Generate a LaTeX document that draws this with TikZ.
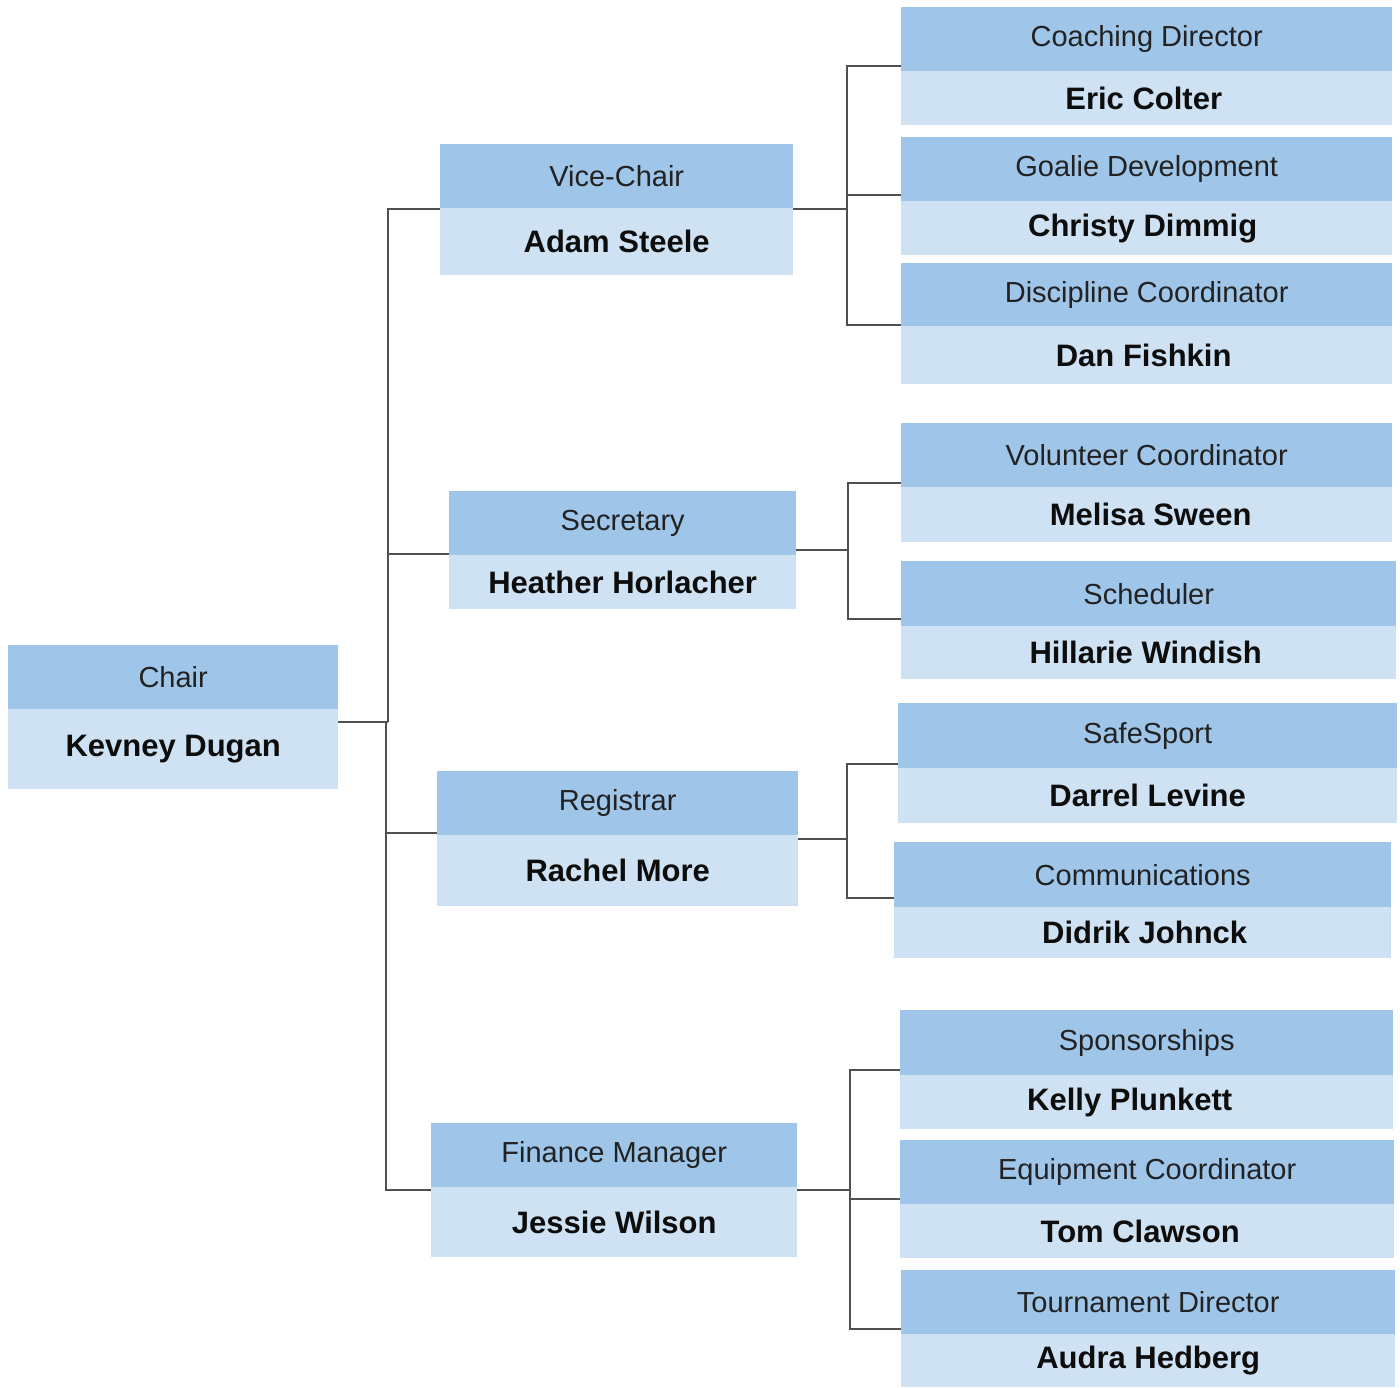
\documentclass[tikz,border=0pt]{standalone}
\usepackage{fontspec}
\setmainfont{Liberation Sans}
\definecolor{roleblue}{HTML}{9FC5E8}
\definecolor{nameblue}{HTML}{CFE2F3}
\definecolor{linec}{HTML}{505050}
\definecolor{roletext}{HTML}{222222}
\definecolor{nametext}{HTML}{0D0D0D}
\tikzset{
  rolebox/.style={fill=roleblue, inner sep=0pt, text=roletext, font=\fontsize{29}{34}\selectfont},
  namebox/.style={fill=nameblue, inner sep=0pt, text=nametext, font=\bfseries\fontsize{31}{36}\selectfont},
  conn/.style={draw=linec, line width=1.5pt}
}
\newcommand{\orgbox}[8]{%
  \node[rolebox, minimum width={#3pt-#2pt}, minimum height={#5pt-#4pt}, anchor=north west] (#1T) at (#2,#4) {#7};
  \node[namebox, minimum width={#3pt-#2pt}, minimum height={#6pt-#5pt}, anchor=north west] (#1B) at (#2,#5) {#8};
}
\begin{document}
\begin{tikzpicture}[x=1pt,y=-1pt]
\fill[white] (0,0) rectangle (1400,1387);
\useasboundingbox (0,0) rectangle (1400,1387);
% level 0
\orgbox{chair}{8}{338}{645}{709}{789}{Chair}{Kevney Dugan}
% level 1
\orgbox{vc}{440}{793}{144}{208}{275}{Vice-Chair}{Adam Steele}
\orgbox{sec}{449}{796}{491}{555}{609}{Secretary}{Heather Horlacher}
\orgbox{reg}{437}{798}{771}{835}{906}{Registrar}{Rachel More}
\orgbox{fin}{431}{797}{1123}{1187}{1257}{Finance Manager}{Jessie Wilson}
% level 2
\orgbox{cd}{901}{1392}{7}{71}{125}{Coaching Director}{Eric Colter\hspace*{6pt}}
\orgbox{gd}{901}{1392}{137}{201}{255}{Goalie Development}{Christy Dimmig\hspace*{8pt}}
\orgbox{dc}{901}{1392}{263}{326}{384}{Discipline Coordinator}{Dan Fishkin\hspace*{6pt}}
\orgbox{vco}{901}{1392}{423}{487}{542}{Volunteer Coordinator}{\hspace*{8pt}Melisa Sween}
\orgbox{sch}{901}{1396}{561}{626}{679}{Scheduler}{Hillarie Windish\hspace*{6pt}}
\orgbox{ss}{898}{1397}{703}{768}{823}{SafeSport}{Darrel Levine}
\orgbox{com}{894}{1391}{842}{907}{958}{Communications}{\hspace*{4pt}Didrik Johnck}
\orgbox{sp}{900}{1393}{1010}{1075}{1129}{Sponsorships}{Kelly Plunkett\hspace*{34pt}}
\orgbox{eq}{900}{1394}{1140}{1204}{1258}{Equipment Coordinator}{Tom Clawson\hspace*{14pt}}
\orgbox{td}{901}{1395}{1270}{1334}{1387}{Tournament Director}{Audra Hedberg}
% trunk
\coordinate (j0) at (388,722);
\draw[conn] (chairB.east |- j0) -- (j0);
\draw[conn] (vcB.west |- 0,209) -| (j0);
\draw[conn] (secB.west |- 0,554) -- (388,554);
\draw[conn] (regB.west |- 0,833) -- (386,833);
\draw[conn] (finB.west |- 0,1190) -| (386,722);
% vice-chair branch
\coordinate (j1) at (847,209);
\draw[conn] (vcB.east |- j1) -- (j1);
\draw[conn] (cdT.west |- 0,66) -| (j1);
\draw[conn] (gdT.west |- 0,195) -- (847,195);
\draw[conn] (dcT.west |- 0,325) -| (j1);
% secretary branch
\coordinate (j2) at (848,550);
\draw[conn] (secT.east |- j2) -- (j2);
\draw[conn] (vcoT.west |- 0,483) -| (j2);
\draw[conn] (schT.west |- 0,619) -| (j2);
% registrar branch
\coordinate (j3) at (847,839);
\draw[conn] (regB.east |- j3) -- (j3);
\draw[conn] (ssT.west |- 0,764) -| (j3);
\draw[conn] (comT.west |- 0,898) -| (j3);
% finance branch
\coordinate (j4) at (850,1190);
\draw[conn] (finB.east |- j4) -- (j4);
\draw[conn] (spT.west |- 0,1070) -| (j4);
\draw[conn] (eqT.west |- 0,1199) -- (850,1199);
\draw[conn] (tdT.west |- 0,1329) -| (j4);
\end{tikzpicture}
\end{document}
